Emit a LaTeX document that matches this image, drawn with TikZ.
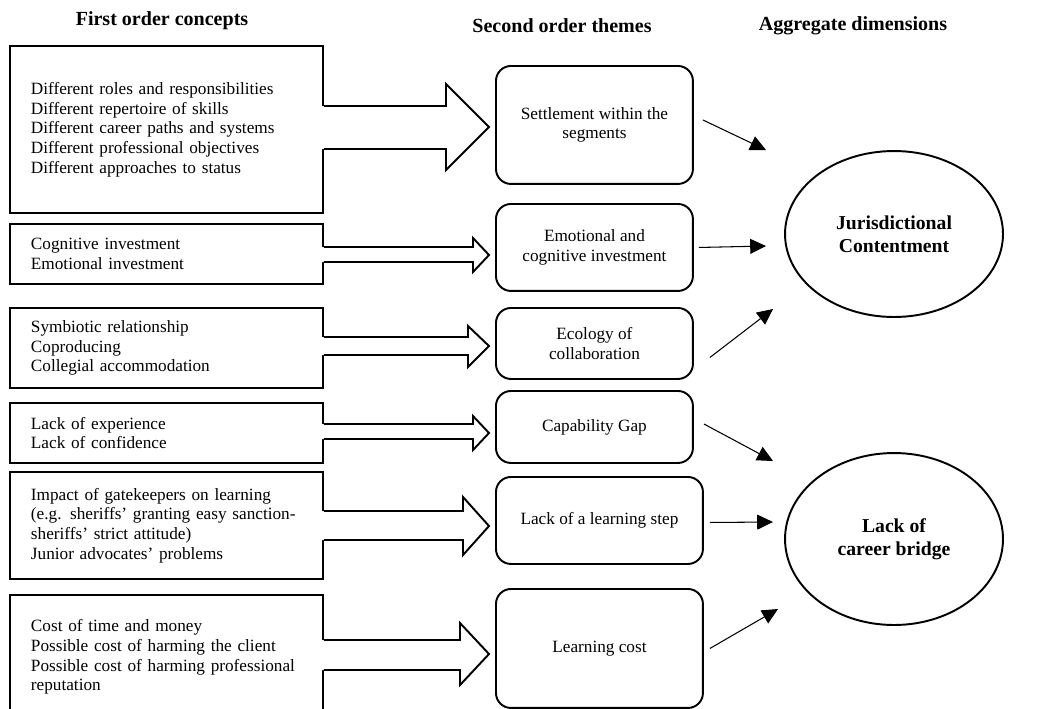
\documentclass[tikz,border=0pt]{standalone}
\usepackage{fontspec}
\setmainfont{Liberation Serif}
\usetikzlibrary{arrows.meta,calc,positioning,shapes.geometric}

% hollow block arrow: from, to, shaft top, shaft bottom, head top, head bottom, head base x, tip y
\newcommand{\fatarrow}[8]{%
  \fill[white] ([xshift=-1.3pt]#1.east |- 0,#3) -- (#7,#3) -- (#7,#5) -- ([xshift=-0.12cm]#2.west |- 0,#8) -- (#7,#6) -- (#7,#4) -- ([xshift=-1.3pt]#1.east |- 0,#4) -- cycle;
  \draw[fat] (#1.east |- 0,#3) -- (#7,#3) -- (#7,#5) -- ([xshift=-0.12cm]#2.west |- 0,#8) -- (#7,#6) -- (#7,#4) -- (#1.east |- 0,#4);}

\begin{document}
\begin{tikzpicture}[x=0.02cm,y=-0.02cm,every node/.style={font=\fontsize{9.8}{11.2}\selectfont},head/.style={font=\fontsize{11.4}{13}\selectfont\bfseries},concept/.style={draw,line width=1.1pt,anchor=north west,align=left,inner xsep=0.42cm,text width=5.42cm},theme/.style={draw,line width=1.1pt,rounded corners=0.3cm,anchor=north west,align=center,minimum width=3.94cm},dim/.style={draw,ellipse,line width=1.1pt,align=center,inner sep=0,minimum width=4.36cm,font=\fontsize{11.2}{13}\selectfont\bfseries},fat/.style={line width=1.1pt,line join=miter},thin/.style={-{Triangle[length=9pt,width=8.5pt]},line width=0.6pt}]
\useasboundingbox (0,0) rectangle (1043,708);
\clip (0,0) rectangle (1043,708);
\fill[white] (0,0) rectangle (1043,708);

\node[head] (h1) at (162,21) {First order concepts};
\node[head] (h2) at (562,26) {Second order themes};
\node[head] (h3) at (853,26) {Aggregate dimensions};

% first order concepts
\node[concept,minimum height=3.34cm] (f1) at (9,45) {Different roles and responsibilities\\Different repertoire of skills\\Different career paths and systems\\Different professional objectives\\Different approaches to status};
\node[concept,minimum height=1.2cm] (f2) at (9,223) {Cognitive investment\\Emotional investment};
\node[concept,minimum height=1.6cm] (f3) at (9,307) {Symbiotic relationship\\Coproducing\\Collegial accommodation};
\node[concept,minimum height=1.2cm] (f4) at (9,402) {Lack of experience\\Lack of confidence};
\node[concept,minimum height=2.14cm] (f5) at (9,471) {Impact of gatekeepers on learning\\(e.g. sheriffs' granting easy sanction-\\sheriffs' strict attitude)\\Junior advocates' problems};
\node[concept,minimum height=2.48cm] (f6) at (9,594) {Cost of time and money\\Possible cost of harming the client\\Possible cost of harming professional\\reputation};

% second order themes
\node[theme,minimum height=2.36cm] (t1) at (495,65) {Settlement within the\\segments};
\node[theme,minimum height=1.74cm] (t2) at (495,203) {Emotional and\\cognitive investment};
\node[theme,minimum height=1.42cm] (t3) at (495,307) {Ecology of\\collaboration};
\node[theme,minimum height=1.44cm] (t4) at (495,390) {Capability Gap};
\node[theme,minimum height=1.74cm,minimum width=4.14cm] (t5) at (495,476) {Lack of a learning step};
\node[theme,minimum height=2.38cm,minimum width=4.14cm] (t6) at (495,588) {Learning cost};

% aggregate dimensions
\node[dim,minimum height=3.32cm] (e1) at (894,234) {Jurisdictional\\Contentment};
\node[dim,minimum height=3.44cm] (e2) at (894,539) {Lack of\\career bridge};

\fatarrow{f1}{t1}{106}{149}{84}{170}{446}{127}
\fatarrow{f2}{t2}{247}{262}{238}{272}{473}{255}
\fatarrow{f3}{t3}{337}{355}{326}{367}{468}{346}
\fatarrow{f4}{t4}{424}{439}{416}{450}{473}{433}
\fatarrow{f5}{t5}{511}{540}{497}{555}{463}{526}
\fatarrow{f6}{t6}{640}{670}{623}{685}{460}{654}

\draw[thin] ([shift={(9,-5)}]t1.east) -- ([shift={(-128,-84)}]e1.center);
\draw[thin] ([shift={(5,0)}]t2.east) -- ([shift={(-128,12)}]e1.center);
\draw[thin] ([shift={(16,14)}]t3.east) -- ([shift={(-121,75)}]e1.center);
\draw[thin] ([shift={(10,-3)}]t4.east) -- ([shift={(-121,-78)}]e2.center);
\draw[thin] ([shift={(6,2)}]t5.east) -- ([shift={(-121,-17)}]e2.center);
\draw[thin] ([shift={(6,0)}]t6.east) -- ([shift={(-116,70)}]e2.center);

\end{tikzpicture}
\end{document}
